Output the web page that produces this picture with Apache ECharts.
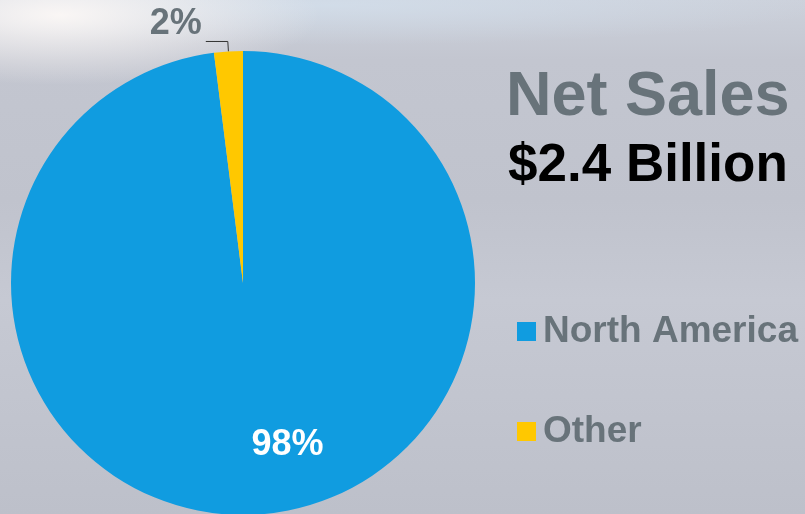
<!DOCTYPE html>
<html>
<head>
<meta charset="utf-8">
<script src="https://cdn.jsdelivr.net/npm/echarts@6/dist/echarts.min.js"></script>
<style>
  html, body { margin: 0; padding: 0; }
  body {
    width: 805px;
    height: 514px;
    overflow: hidden;
    background:
      radial-gradient(ellipse 260px 70px at 60px 15px, rgba(252,248,246,0.95), rgba(252,248,246,0) 100%),
      radial-gradient(ellipse 500px 40px at 330px 5px, rgba(212,225,238,0.7), rgba(212,225,238,0) 100%),
      linear-gradient(180deg, #ccd1db 0px, #c3c6d0 60px, #c0c3cd 200px, #c6c9d3 300px, #bdc0ca 514px);
  }
  #chart { width: 805px; height: 514px; }
</style>
</head>
<body>
<div id="chart"></div>
<script>
// данные
const regions = ['North America', 'Other']
const shares = [98, 2]
const colors = ['#109ce0', '#ffc800']
const titleText = 'Net Sales'
const subtitleText = '$2.4 Billion'

const chart = echarts.init(document.getElementById('chart'))

const fontFam = '"Liberation Sans", Arial, sans-serif'

const option = {
  backgroundColor: 'transparent',
  animation: false,
  title: [
    {
      text: titleText,
      left: 506,
      top: 66,
      padding: 0,
      textStyle: { fontFamily: fontFam, fontSize: 63, fontWeight: 'bold', color: '#68737a' }
    },
    {
      text: subtitleText,
      left: 508,
      top: 140,
      padding: 0,
      textStyle: { fontFamily: fontFam, fontSize: 53, fontWeight: 'bold', color: '#000' }
    }
  ],
  legend: {
    orient: 'vertical',
    left: 517,
    top: 313,
    padding: 0,
    itemWidth: 19,
    itemHeight: 19,
    itemGap: 63,
    icon: 'rect',
    textStyle: { fontFamily: fontFam, fontSize: 37, fontWeight: 'bold', color: '#68737a', padding: [0, 0, 0, 2] },
    data: regions
  },
  series: [{
    type: 'pie',
    center: [243, 283],
    radius: 232,
    startAngle: 90,
    clockwise: true,
    label: { show: false },
    itemStyle: { borderWidth: 0 },
    data: regions.map((name, i) => {
      const item = { name: name, value: shares[i], itemStyle: { color: colors[i] } }
      if (i === 0) {
        item.label = {
          show: true,
          position: 'inside',
          formatter: '{c}%',
          offset: [37, 43],
          fontFamily: fontFam,
          fontSize: 36,
          fontWeight: 'bold',
          color: '#fff'
        }
      } else {
        // вторая пустая строка поднимает текст над линией
        item.label = {
          show: true,
          position: 'outside',
          formatter: '{c}%\n ',
          lineHeight: 34,
          distanceToLabelLine: 4,
          fontFamily: fontFam,
          fontSize: 36,
          fontWeight: 'bold',
          color: '#68737a'
        }
        item.labelLine = {
          show: true,
          length: 10,
          length2: 22,
          lineStyle: { color: '#333', width: 1 }
        }
      }
      return item
    })
  }]
}

chart.setOption(option)
</script>
</body>
</html>
